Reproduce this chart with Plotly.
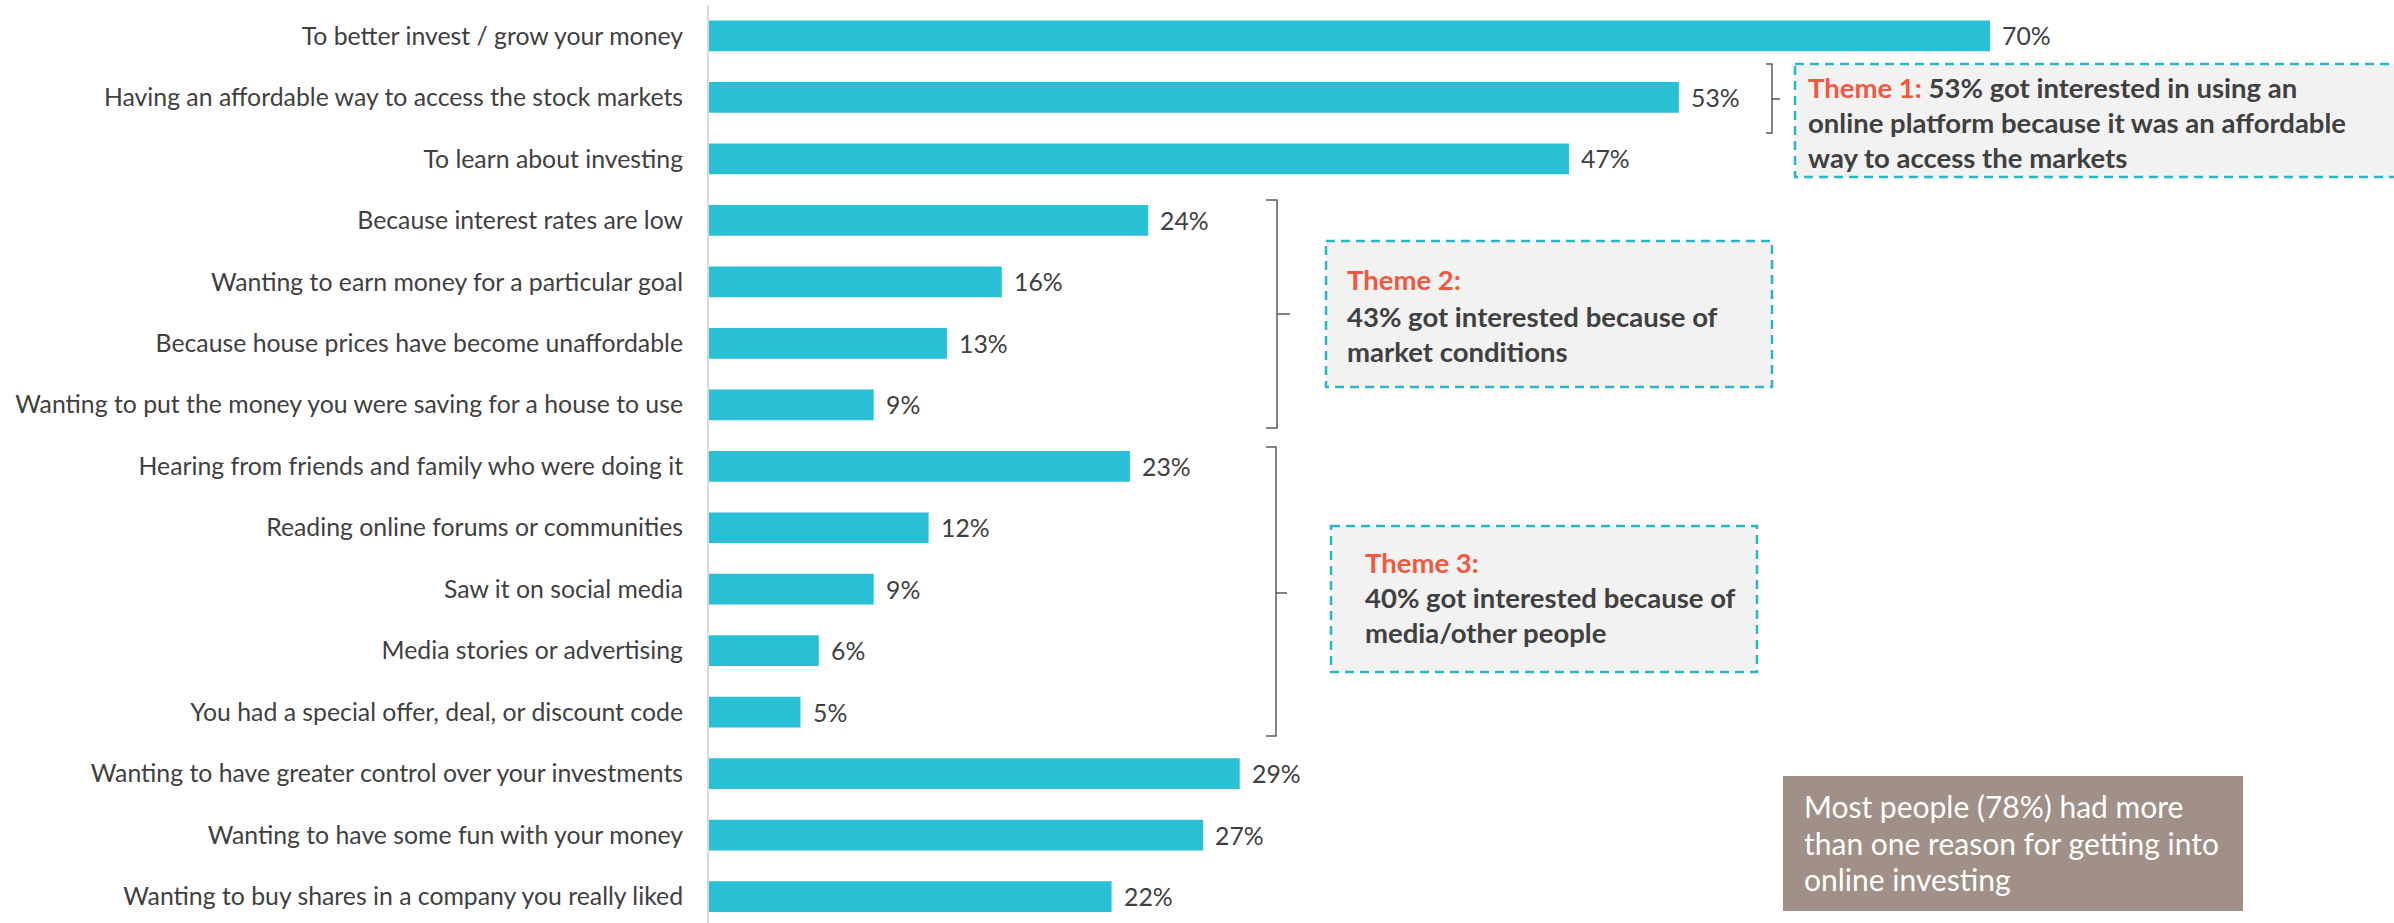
import plotly.graph_objects as go

# Reasons for getting interested in online investing (% of respondents)
reasons = [
    "To better invest / grow your money",
    "Having an affordable way to access the stock markets",
    "To learn about investing",
    "Because interest rates are low",
    "Wanting to earn money for a particular goal",
    "Because house prices have become unaffordable",
    "Wanting to put the money you were saving for a house to use",
    "Hearing from friends and family who were doing it",
    "Reading online forums or communities",
    "Saw it on social media",
    "Media stories or advertising",
    "You had a special offer, deal, or discount code",
    "Wanting to have greater control over your investments",
    "Wanting to have some fun with your money",
    "Wanting to buy shares in a company you really liked",
]
shares = [70, 53, 47, 24, 16, 13, 9, 23, 12, 9, 6, 5, 29, 27, 22]

theme_titles = ["Theme 1:", "Theme 2:", "Theme 3:"]
theme_lines = [
    ["53% got interested in using an",
     "online platform because it was an affordable",
     "way to access the markets"],
    ["43% got interested because of",
     "market conditions"],
    ["40% got interested because of",
     "media/other people"],
]
note_lines = [
    "Most people (78%) had more",
    "than one reason for getting into",
    "online investing",
]

W, H = 2394, 923
L, T = 709, 5
PW, PH = W - L, H - T

BAR = "#29C0D6"
TEXT = "#404040"
RED = "#F2573F"
TEAL = "#2AB6CA"
FONT = "Lato"
LABEL_SIZE = 24.8
THEME_SIZE = 27.5
NOTE_SIZE = 30


def px(x):
    return (x - L) / PW


def py(y):
    return 1 - (y - T) / PH


fig = go.Figure(
    go.Bar(
        x=shares,
        y=reasons,
        orientation="h",
        width=0.5,
        marker=dict(color=BAR, line=dict(width=0)),
        hoverinfo="skip",
    )
)

annotations = []
# value labels next to each bar
for r, v in zip(reasons, shares):
    annotations.append(dict(
        x=v, y=r, xref="x", yref="y", text=f"{v}%", showarrow=False,
        xanchor="left", yanchor="middle", xshift=10,
        font=dict(family=FONT, size=LABEL_SIZE, color=TEXT),
    ))

shapes = []


def brace(xv, y0, y1, ym, hook=6, tick=8):
    path = (f"M {px(xv - hook)},{py(y0)} L {px(xv)},{py(y0)} "
            f"L {px(xv)},{py(y1)} L {px(xv - hook)},{py(y1)} "
            f"M {px(xv)},{py(ym)} L {px(xv + tick)},{py(ym)}")
    shapes.append(dict(type="path", path=path, xref="paper", yref="paper",
                       line=dict(color="#595959", width=1.5)))


def theme_box(x0, y0, x1, y1):
    shapes.append(dict(type="rect", xref="paper", yref="paper",
                       x0=px(x0), x1=px(x1), y0=py(y0), y1=py(y1),
                       fillcolor="#F2F2F2",
                       line=dict(color=TEAL, width=2.5, dash="9px,6px"),
                       layer="below"))


def text_line(x, ybase, text, size, color, bold=True):
    t = f"<b>{text}</b>" if bold else text
    annotations.append(dict(
        x=px(x), y=py(ybase), xref="paper", yref="paper", text=t,
        showarrow=False, xanchor="left", yanchor="bottom",
        yshift=-round(0.29 * size),
        font=dict(family=FONT, size=size, color=color),
    ))


# Theme 1
brace(1772, 64, 133, 99)
theme_box(1795, 64, 2400, 177)
text_line(1806, 98,
          f"<span style='color:{RED}'>{theme_titles[0]}</span> {theme_lines[0][0]}",
          THEME_SIZE, TEXT)
text_line(1806, 133, theme_lines[0][1], THEME_SIZE, TEXT)
text_line(1806, 168, theme_lines[0][2], THEME_SIZE, TEXT)

# Theme 2
brace(1277, 200, 428, 314, hook=11, tick=13)
theme_box(1326, 241, 1772, 387)
text_line(1345, 290, theme_titles[1], THEME_SIZE, RED)
text_line(1345, 327, theme_lines[1][0], THEME_SIZE, TEXT)
text_line(1345, 362, theme_lines[1][1], THEME_SIZE, TEXT)

# Theme 3
brace(1276, 447, 736, 593, hook=10, tick=11)
theme_box(1331, 526, 1757, 672)
text_line(1363, 573, theme_titles[2], THEME_SIZE, RED)
text_line(1363, 608, theme_lines[2][0], THEME_SIZE, TEXT)
text_line(1363, 643, theme_lines[2][1], THEME_SIZE, TEXT)

# Summary note
shapes.append(dict(type="rect", xref="paper", yref="paper",
                   x0=px(1783), x1=px(2243), y0=py(776), y1=py(911),
                   fillcolor="#A09087", line=dict(width=0), layer="below"))
for i, line in enumerate(note_lines):
    text_line(1802, 817 + 36.5 * i, line, NOTE_SIZE, "#FFFFFF", bold=False)

fig.update_layout(
    width=W, height=H, autosize=False,
    margin=dict(l=L, r=0, t=T, b=0, pad=0),
    paper_bgcolor="white", plot_bgcolor="white",
    showlegend=False,
    bargap=0.5,
    xaxis=dict(range=[0, PW / 18.3], visible=False, fixedrange=True),
    yaxis=dict(
        categoryorder="array", categoryarray=reasons,
        range=[14.43, -0.504],
        showline=True, linecolor="#D9D9D9", linewidth=2,
        showgrid=False, zeroline=False, ticks="",
        ticklabelstandoff=19,
        tickfont=dict(family=FONT, size=LABEL_SIZE, color=TEXT),
        fixedrange=True,
    ),
    shapes=shapes,
    annotations=annotations,
)

fig.write_html("out.html", config=dict(displayModeBar=False))
